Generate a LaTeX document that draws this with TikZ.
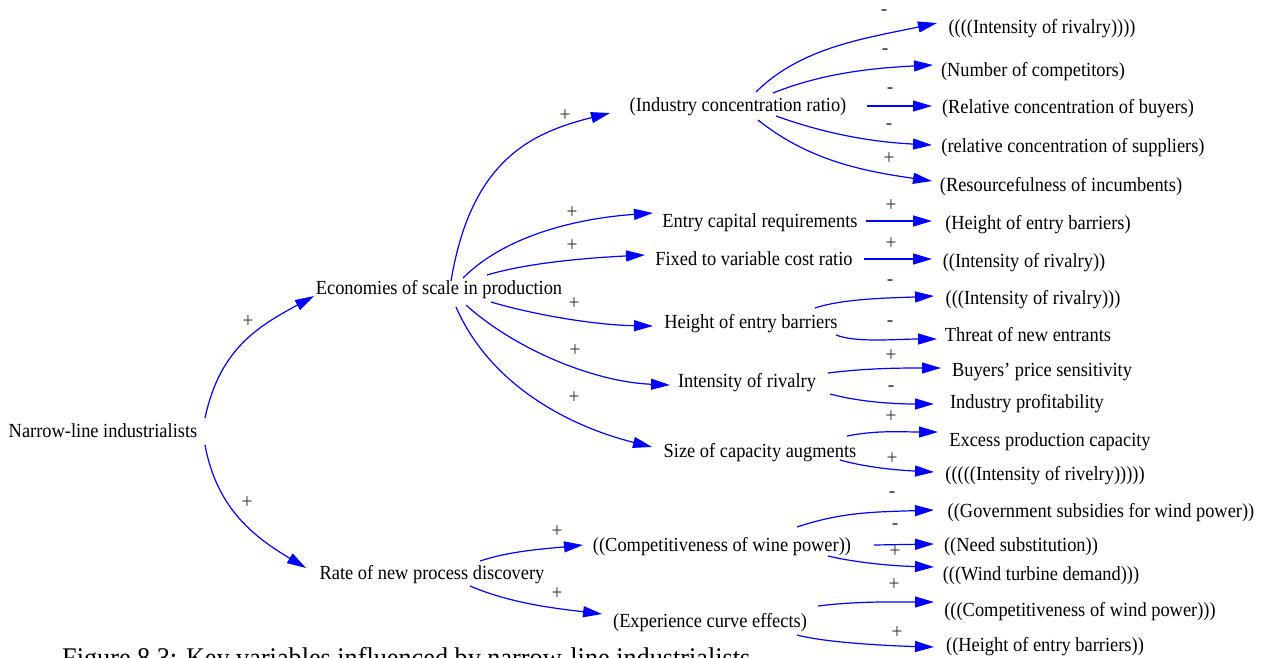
\documentclass[tikz,border=0pt]{standalone}
\usepackage{fontspec}
\setmainfont[FakeStretch=0.92]{Liberation Serif}
\usetikzlibrary{arrows.meta}
\begin{document}
\begin{tikzpicture}[x=1pt,y=-1pt,
  var/.style={inner sep=0pt,text height=18pt,text depth=5pt,
    font=\fontsize{20}{24}\selectfont},
  sign/.style={inner sep=0pt,text=black!80,font=\fontsize{21}{24}\selectfont},
  link/.style={draw={rgb,255:red,0;green,0;blue,255},line width=1.2pt,
    -{Triangle[length=19pt,width=11pt]}}]
\clip (0,0) rectangle (1269,657);
\fill[white] (0,0) rectangle (1269,657);

% left and middle variables
\node[var] (nar)  at (103,431) {Narrow-line industrialists};
\node[var] (eco)  at (439,288) {Economies of scale in production};
\node[var] (rate) at (432,573) {Rate of new process discovery};
\node[var] (ind)  at (738,105) {(Industry concentration ratio)};
\node[var] (ecap) at (760,221) {Entry capital requirements};
\node[var] (fix)  at (754,259) {Fixed to variable cost ratio};
\node[var] (heb)  at (751,322) {Height of entry barriers};
\node[var] (ior)  at (747,381) {Intensity of rivalry};
\node[var] (size) at (760,451) {Size of capacity augments};
\node[var] (comp) at (722,545) {((Competitiveness of wine power))};
\node[var] (exp)  at (710,621) {(Experience curve effects)};

% right-hand variables
\node[var] (r1)  at (1042,27)  {((((Intensity of rivalry))))};
\node[var] (r2)  at (1033,70)  {(Number of competitors)};
\node[var] (r3)  at (1068,107) {(Relative concentration of buyers)};
\node[var] (r4)  at (1073,146) {(relative concentration of suppliers)};
\node[var] (r5)  at (1061,185) {(Resourcefulness of incumbents)};
\node[var] (r6)  at (1038,223) {(Height of entry barriers)};
\node[var] (r7)  at (1024,261) {((Intensity of rivalry))};
\node[var] (r8)  at (1033,298) {(((Intensity of rivalry)))};
\node[var] (r9)  at (1028,335) {Threat of new entrants};
\node[var] (r10) at (1042,370) {Buyers' price sensitivity};
\node[var] (r11) at (1027,402) {Industry profitability};
\node[var] (r12) at (1050,440) {Excess production capacity};
\node[var] (r13) at (1045,474) {(((((Intensity of rivelry)))))};
\node[var] (r14) at (1101,511) {((Government subsidies for wind power))};
\node[var] (r15) at (1021,545) {((Need substitution))};
\node[var] (r16) at (1041,574) {(((Wind turbine demand)))};
\node[var] (r17) at (1080,610) {(((Competitiveness of wind power)))};
\node[var] (r18) at (1045,645) {((Height of entry barriers))};

% first level links
\draw[link] ([shift={(102,-13)}]nar.center) .. controls +(15,-70) and +(-55,30) .. ([shift={(-125,8)}]eco.center);
\draw[link] ([shift={(102,14)}]nar.center) .. controls +(12,65) and +(-50,-30) .. ([shift={(-126,-5)}]rate.center);

% links from the economies of scale
\draw[link] ([shift={(12,-7)}]eco.center) .. controls +(20,-120) and +(-80,20) .. ([shift={(-128,8)}]ind.center);
\draw[link] ([shift={(24,-10)}]eco.center) .. controls +(45,-45) and +(-70,5) .. ([shift={(-107,-8)}]ecap.center);
\draw[link] ([shift={(48,-13)}]eco.center) .. controls +(40,-12) and +(-60,3) .. ([shift={(-109,-4)}]fix.center);
\draw[link] ([shift={(52,14)}]eco.center) .. controls +(40,12) and +(-60,-1) .. ([shift={(-98,4)}]heb.center);
\draw[link] ([shift={(27,17)}]eco.center) .. controls +(50,45) and +(-75,-3) .. ([shift={(-77,4)}]ior.center);
\draw[link] ([shift={(17,19)}]eco.center) .. controls +(35,80) and +(-80,-20) .. ([shift={(-108,-4)}]size.center);

% links from the process discovery rate
\draw[link] ([shift={(48,-12)}]rate.center) .. controls +(30,-10) and +(-40,4) .. ([shift={(-139,0)}]comp.center);
\draw[link] ([shift={(38,13)}]rate.center) .. controls +(40,17) and +(-50,-6) .. ([shift={(-108,-7)}]exp.center);

% links to the right-hand column
\draw[link] ([shift={(18,-13)}]ind.center) .. controls +(45,-45) and +(-70,15) .. ([shift={(-105,-4)}]r1.center);
\draw[link] ([shift={(35,-12)}]ind.center) .. controls +(50,-20) and +(-60,3) .. ([shift={(-100,-5)}]r2.center);
\draw[link] ([shift={(129,1)}]ind.center) -- ([shift={(-136,-1)}]r3.center);
\draw[link] ([shift={(38,11)}]ind.center) .. controls +(50,18) and +(-60,-3) .. ([shift={(-141,-1)}]r4.center);
\draw[link] ([shift={(20,15)}]ind.center) .. controls +(50,40) and +(-70,-10) .. ([shift={(-129,-4)}]r5.center);
\draw[link] ([shift={(106,0)}]ecap.center) -- ([shift={(-106,-2)}]r6.center);
\draw[link] ([shift={(110,0)}]fix.center) -- ([shift={(-92,-2)}]r7.center);
\draw[link] ([shift={(64,-14)}]heb.center) .. controls +(30,-10) and +(-40,2) .. ([shift={(-99,-2)}]r8.center);
\draw[link] ([shift={(85,13)}]heb.center) .. controls +(20,8) and +(-40,0) .. ([shift={(-91,4)}]r9.center);
\draw[link] ([shift={(81,-8)}]ior.center) .. controls +(40,-5) and +(-40,0) .. ([shift={(-101,-2)}]r10.center);
\draw[link] ([shift={(83,13)}]ior.center) .. controls +(30,8) and +(-40,0) .. ([shift={(-93,2)}]r11.center);
\draw[link] ([shift={(87,-15)}]size.center) .. controls +(30,-6) and +(-35,0) .. ([shift={(-112,-8)}]r12.center);
\draw[link] ([shift={(80,9)}]size.center) .. controls +(25,7) and +(-40,-2) .. ([shift={(-111,-2)}]r13.center);
\draw[link] ([shift={(75,-18)}]comp.center) .. controls +(45,-15) and +(-60,2) .. ([shift={(-167,-1)}]r14.center);
\draw[link] ([shift={(152,0)}]comp.center) -- ([shift={(-87,-1)}]r15.center);
\draw[link] ([shift={(106,11)}]comp.center) .. controls +(30,7) and +(-40,-1) .. ([shift={(-107,-7)}]r16.center);
\draw[link] ([shift={(108,-15)}]exp.center) .. controls +(40,-5) and +(-40,0) .. ([shift={(-146,-8)}]r17.center);
\draw[link] ([shift={(87,14)}]exp.center) .. controls +(30,8) and +(-40,-1) .. ([shift={(-111,2)}]r18.center);

% polarity signs
\node[sign] (s1)  at (248,322) {+};
\node[sign] (s2)  at (247,503) {+};
\node[sign] (s3)  at (565,116) {+};
\node[sign] (s4)  at (572,213) {+};
\node[sign] (s5)  at (572,246) {+};
\node[sign] (s6)  at (574,304) {+};
\node[sign] (s7)  at (575,351) {+};
\node[sign] (s8)  at (574,398) {+};
\node[sign] (s9)  at (557,532) {+};
\node[sign] (s10) at (557,594) {+};
\node[sign] (s11) at (884,13)  {-};
\node[sign] (s12) at (885,52)  {-};
\node[sign] (s13) at (890,91)  {-};
\node[sign] (s14) at (889,127) {-};
\node[sign] (s15) at (889,159) {+};
\node[sign] (s16) at (891,206) {+};
\node[sign] (s17) at (891,244) {+};
\node[sign] (s18) at (890,283) {-};
\node[sign] (s19) at (890,324) {-};
\node[sign] (s20) at (891,356) {+};
\node[sign] (s21) at (891,389) {-};
\node[sign] (s22) at (891,417) {+};
\node[sign] (s23) at (892,459) {+};
\node[sign] (s24) at (892,495) {-};
\node[sign] (s25) at (895,527) {-};
\node[sign] (s26) at (895,552) {+};
\node[sign] (s27) at (894,585) {+};
\node[sign] (s28) at (897,633) {+};

% caption, cut by the lower edge
\node[anchor=base west,inner sep=0pt,font=\fontsize{28.5}{32}\selectfont] (cap) at (62,667)
  {Figure 8.3: Key variables influenced by narrow-line industrialists};
\end{tikzpicture}
\end{document}
